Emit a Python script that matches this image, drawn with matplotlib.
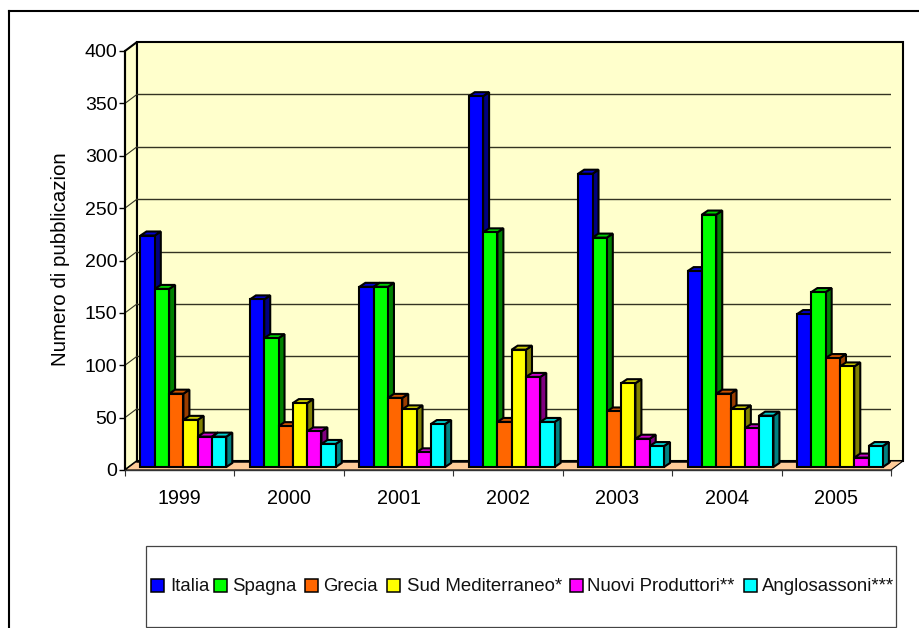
import numpy as np
import matplotlib
matplotlib.use('Agg')
import matplotlib.pyplot as plt
from matplotlib.patches import Polygon, Rectangle

plt.rcParams['font.family'] = ['Liberation Sans', 'DejaVu Sans']

years = ['1999', '2000', '2001', '2002', '2003', '2004', '2005']
series = ['Italia', 'Spagna', 'Grecia', 'Sud Mediterraneo*', 'Nuovi Produttori**', 'Anglosassoni***']

italia = [221, 160, 172, 354, 280, 187, 146]
spagna = [170, 123, 172, 224, 219, 241, 167]
grecia = [70, 39, 66, 43, 53, 70, 104]
sud_med = [45, 61, 55, 112, 80, 55, 96]
nuovi = [29, 34, 14, 86, 27, 37, 9]
anglo = [29, 22, 41, 43, 20, 49, 20]
values = [italia, spagna, grecia, sud_med, nuovi, anglo]

colors = ['#0000FF', '#00FF00', '#FF6600', '#FFFF00', '#FF00FF', '#00FFFF']
sides = ['#000080', '#008000', '#993D00', '#808000', '#800080', '#008080']
tops = ['#0000CC', '#00CC00', '#CC5200', '#CCCC00', '#CC00CC', '#00CCCC']

W, H = 920, 628
fig = plt.figure(figsize=(W / 100, H / 100), dpi=100)

# axes = front plane of the 3d box, pixel corners measured on the picture
x0, x1, y0, y1 = 125, 891, 470, 51
ax = fig.add_axes([x0 / W, 1 - y0 / H, (x1 - x0) / W, (y0 - y1) / H])
ax.set_xlim(0, 7)
ax.set_ylim(0, 400)
ax.patch.set_visible(False)

# one pixel in data units
px = 7 / (x1 - x0)
py = 400 / (y0 - y1)
# box depth, bar depth, bar offset from the front plane
box_dx, box_dy = 12 * px, 9 * py
bar_dx, bar_dy = 6 * px, 4 * py
off_x, off_y = 3 * px, 3 * py
edge = 1.5


def poly(points, fc, lw=edge, ec='black', z=1):
    ax.add_patch(Polygon(points, closed=True, fc=fc, ec=ec, lw=lw, zorder=z,
                         clip_on=False, joinstyle='miter'))


# walls and floor
poly([(0, 0), (box_dx, box_dy), (box_dx, 400 + box_dy), (0, 400)], '#FFFFCC')
poly([(box_dx, box_dy), (7 + box_dx, box_dy), (7 + box_dx, 400 + box_dy), (box_dx, 400 + box_dy)], '#FFFFCC')
poly([(0, 0), (7, 0), (7 + box_dx, box_dy), (box_dx, box_dy)], '#FFCC99', lw=0.8, z=1.5)
ax.plot([box_dx, 7 + box_dx], [box_dy, box_dy], color='black', lw=1.8, zorder=1.6)

# grid on the back wall
for v in range(50, 400, 50):
    ax.plot([box_dx, 7 + box_dx], [v + box_dy, v + box_dy], color='#333322', lw=1.0, zorder=1.2)
    ax.plot([0, box_dx], [v, v + box_dy], color='#333322', lw=0.8, zorder=1.2)

# bars, left to right so each one covers the side of the previous
n = len(values)
bar_w = 14.3 * px
start = 12.5 * px + off_x
for i in range(len(years)):
    for j in range(n):
        v = values[j][i]
        left = i + start + j * bar_w
        right = left + bar_w
        z = 3 + i + j * 0.1
        poly([(right, off_y), (right + bar_dx, off_y + bar_dy), (right + bar_dx, off_y + bar_dy + v),
              (right, off_y + v)], sides[j], z=z)
        poly([(left, off_y + v), (right, off_y + v), (right + bar_dx, off_y + v + bar_dy),
              (left + bar_dx, off_y + v + bar_dy)], tops[j], z=z)
        ax.bar(left, v, width=bar_w, bottom=off_y, align='edge', color=colors[j], edgecolor='black',
               linewidth=edge, zorder=z + 0.01, clip_on=False)

# axes lines and labels
for s in ['top', 'right']:
    ax.spines[s].set_visible(False)
ax.spines['left'].set_linewidth(1.5)
ax.spines['bottom'].set_linewidth(1.0)
ax.spines['bottom'].set_color('#333333')
ax.set_yticks(range(0, 401, 50))
ax.tick_params(axis='y', length=4.5, width=1.0, labelsize=14, pad=1)
ax.set_xticks(range(8))
ax.set_xticklabels([])
ax.tick_params(axis='x', which='major', length=4.5, width=0.8, color='#333333')
ax.set_xticks(np.arange(7) + 0.5, minor=True)
ax.set_xticklabels(years, minor=True, fontsize=14.2)
ax.tick_params(axis='x', which='minor', length=0, pad=14)
ax.set_ylabel('Numero di pubblicazion', fontsize=14.8, labelpad=0)
ax.yaxis.set_label_coords((70 - x0) / (x1 - x0), (y0 - 259) / (y0 - y1))

# outer frame, open on the right and at the bottom
fig.add_artist(plt.Line2D([9 / W, 9 / W], [0, 1 - 11 / H], color='black', lw=1.5))
fig.add_artist(plt.Line2D([9 / W, 1], [1 - 11 / H, 1 - 11 / H], color='black', lw=1.5))

# legend box
fig.add_artist(Rectangle((146 / W, 1 - 627 / H), 750 / W, 81 / H, transform=fig.transFigure,
                         fc='white', ec='#444444', lw=0.9))
swatch_x = [151, 214, 305, 387, 570, 744]
text_x = [170, 232, 323, 407, 587, 762]
for name, c, sx, tx in zip(series, colors, swatch_x, text_x):
    fig.add_artist(Rectangle((sx / W, 1 - 592 / H), 13 / W, 13 / H, transform=fig.transFigure,
                             fc=c, ec='black', lw=1.1))
    fig.text(tx / W, 1 - 591 / H, name, fontsize=13.4, va='baseline', ha='left', color='#111111')

fig.savefig('out.png', dpi=100)
